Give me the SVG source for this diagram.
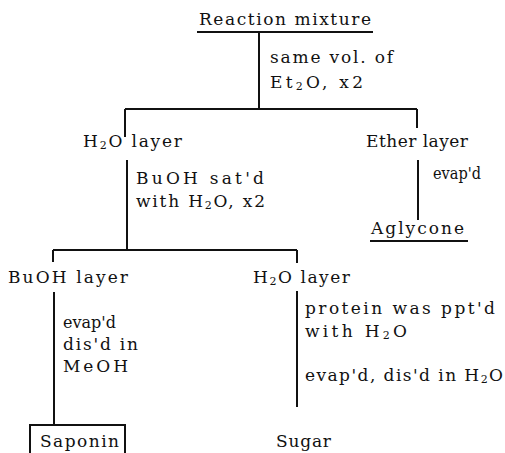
<svg xmlns="http://www.w3.org/2000/svg" width="505" height="453" viewBox="0 0 505 453">
<style>
text{font-family:"DejaVu Serif","Liberation Serif",serif;font-size:17px;fill:#111}
.sub{font-size:11px}
.ln{stroke:#111;stroke-width:2;fill:none}
</style>
<rect width="505" height="453" fill="#fff"/>
<g id="connectors">
<path class="ln" d="M197 32H373"/>
<path class="ln" d="M259 32V109"/>
<path class="ln" d="M125 109H417"/>
<path class="ln" d="M125 109V137"/>
<path class="ln" d="M417 109V128"/>
<path class="ln" d="M127 160V250"/>
<path class="ln" d="M53 250H297"/>
<path class="ln" d="M53 250V262"/>
<path class="ln" d="M297 250V263"/>
<path class="ln" d="M418 160V220"/>
<path class="ln" d="M54 292V425"/>
<path class="ln" d="M297 291V407"/>
</g>
<g id="n-reaction"><text x="199" y="25" textLength="172" lengthAdjust="spacing">Reaction mixture</text></g>
<g id="l-ether"><text x="270" y="63" textLength="123" lengthAdjust="spacing">same vol. of</text><text x="270" y="88" textLength="93" lengthAdjust="spacing">Et<tspan class="sub" dy="2">2</tspan><tspan dy="-2">O,  x2</tspan></text></g>
<g id="n-h2o1"><text x="83" y="147" textLength="99" lengthAdjust="spacing">H<tspan class="sub" dy="2">2</tspan><tspan dy="-2">O layer</tspan></text></g>
<g id="l-buoh"><text x="136" y="184" textLength="128" lengthAdjust="spacing">BuOH sat'd</text><text x="136" y="207" textLength="129" lengthAdjust="spacing">with H<tspan class="sub" dy="2">2</tspan><tspan dy="-2">O, x2</tspan></text></g>
<g id="n-ether"><text x="366" y="147" textLength="102" lengthAdjust="spacing">Ether layer</text></g>
<g id="l-evap1"><text x="433" y="179" textLength="48" lengthAdjust="spacingAndGlyphs">evap'd</text></g>
<g id="n-aglycone"><text x="371" y="234" textLength="93" lengthAdjust="spacing">Aglycone</text><path class="ln" d="M370 241H468"/></g>
<g id="n-buoh"><text x="8" y="283" textLength="120" lengthAdjust="spacing">BuOH layer</text></g>
<g id="l-evap2"><text x="63" y="328" textLength="53" lengthAdjust="spacingAndGlyphs">evap'd</text><text x="63" y="350" textLength="75" lengthAdjust="spacing">dis'd in</text><text x="63" y="372" textLength="65" lengthAdjust="spacing">MeOH</text></g>
<g id="n-saponin"><path class="ln" d="M30 454V425H125V454"/><text x="40" y="447" textLength="79" lengthAdjust="spacing">Saponin</text></g>
<g id="n-h2o2"><text x="253" y="283" textLength="97" lengthAdjust="spacing">H<tspan class="sub" dy="2">2</tspan><tspan dy="-2">O layer</tspan></text></g>
<g id="l-protein"><text x="305" y="314" textLength="190" lengthAdjust="spacing">protein was ppt'd</text><text x="305" y="337" textLength="102" lengthAdjust="spacing">with H<tspan class="sub" dy="2">2</tspan><tspan dy="-2">O</tspan></text><text x="305" y="381" textLength="198" lengthAdjust="spacing">evap'd, dis'd in H<tspan class="sub" dy="2">2</tspan><tspan dy="-2">O</tspan></text></g>
<g id="n-sugar"><text x="276" y="447" textLength="55" lengthAdjust="spacing">Sugar</text></g>
</svg>
